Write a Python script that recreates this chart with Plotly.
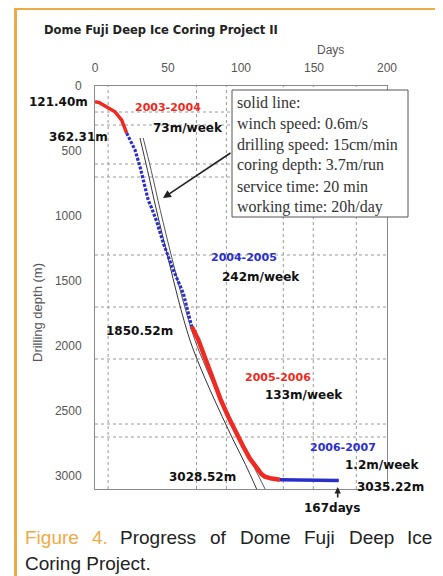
import plotly.graph_objects as go

# ---------------- data ----------------
red1_days = [0, 3, 5.7, 10, 13.7, 18.3, 20.5, 21.7]
red1_depth = [121.40, 128, 146, 170, 198, 262, 338, 362.31]

blue1_days = [21.7, 24.5, 27.4, 30.8, 34.2, 36.5, 38.8, 42.2, 46.8, 53.6, 60.5, 66.2]
blue1_depth = [362.31, 430, 492, 620, 775, 880, 940, 1040, 1210, 1415, 1595, 1850.52]

red2_days = [66.2, 70.8, 76, 81, 86, 91.3, 96.5, 101.6, 106, 110.7, 114, 116.4, 121, 126.7]
red2_depth = [1850.52, 1954, 2110, 2262, 2410, 2544, 2665, 2775, 2865, 2940, 2985, 3005, 3020, 3028.52]

blue2_days = [126.7, 140, 155, 167]
blue2_depth = [3028.52, 3030, 3033, 3035.22]

theo_a_days = [30.8, 36, 42.2, 50, 57, 65, 72, 78.8, 87, 94.7, 103, 110.7]
theo_a_depth = [400, 650, 960, 1320, 1640, 1954, 2160, 2338, 2540, 2723, 2910, 3100]
theo_b_days = [33.0, 38.5, 44.8, 52.6, 60, 68.4, 75.8, 82.8, 91.5, 99.5, 108, 116.5]
theo_b_depth = [400, 650, 960, 1320, 1640, 1954, 2160, 2338, 2540, 2723, 2910, 3100]

grid_days = [9, 69.5, 90, 129, 149.5, 179]
grid_depths = [200, 300, 600, 700, 1300, 1700, 2100, 2600, 2700]

x_ticks = [0, 50, 100, 150, 200]
y_ticks = [0, 500, 1000, 1500, 2000, 2500, 3000]

box_lines = ["solid line:", "winch speed: 0.6m/s", "drilling speed: 15cm/min",
             "coring depth: 3.7m/run", "service time: 20 min", "working time: 20h/day"]

# ---------------- layout helpers (page pixel coords) ----------------
PAGE_W, PAGE_H = 443, 576
OFF = 8                      # default body margin of the html page
W, H = PAGE_W - OFF, PAGE_H - OFF
L, R, T, B = 95, 387, 86, 489   # plot area in page pixels


def fx(px):
    return (px - L) / (R - L)


def fy(py):
    return (B - py) / (B - T)


ORANGE = "#eeab45"
RED = "#ee2a22"
BLUE = "#2a2fcc"

fig = go.Figure()

# theoretical lines
fig.add_trace(go.Scatter(x=theo_a_days, y=theo_a_depth, mode="lines",
                         line=dict(color="#333333", width=1, shape="spline"), hoverinfo="skip"))
fig.add_trace(go.Scatter(x=theo_b_days, y=theo_b_depth, mode="lines",
                         line=dict(color="#555555", width=1, shape="spline"), hoverinfo="skip"))

# progress
fig.add_trace(go.Scatter(x=red1_days, y=red1_depth, mode="lines",
                         line=dict(color=RED, width=3.5)))
fig.add_trace(go.Scatter(x=blue1_days, y=blue1_depth, mode="lines",
                         line=dict(color=BLUE, width=3.2, dash="3px,1.5px")))
fig.add_trace(go.Scatter(x=red2_days, y=red2_depth, mode="lines",
                         line=dict(color=RED, width=4.5)))
fig.add_trace(go.Scatter(x=blue2_days, y=blue2_depth, mode="lines",
                         line=dict(color=BLUE, width=3.5)))

shapes = []
for d in grid_days:
    shapes.append(dict(type="line", xref="x", yref="paper", x0=d, x1=d, y0=0, y1=1,
                       line=dict(color="#9a9a9a", width=1, dash="dot"), layer="below"))
for d in grid_depths:
    shapes.append(dict(type="line", xref="paper", yref="y", x0=0, x1=1, y0=d, y1=d,
                       line=dict(color="#9a9a9a", width=1, dash="dot"), layer="below"))

# info box
shapes.append(dict(type="rect", xref="paper", yref="paper",
                   x0=fx(232), x1=fx(408), y0=fy(217), y1=fy(90),
                   line=dict(color="#555555", width=1), fillcolor="white", layer="above"))

# orange frame
shapes.append(dict(type="path", xref="paper", yref="paper",
                   path=f"M {fx(15.5)} {fy(590)} L {fx(15.5)} {fy(8.5)} L {fx(436.5)} {fy(8.5)} L {fx(436.5)} {fy(590)}",
                   line=dict(color=ORANGE, width=3), layer="above"))

ann = []


def txt(text, x, y, size=12, color="#111111", family="DejaVu Sans", xanchor="center", bold=True, **kw):
    ann.append(dict(text=f"<b>{text}</b>" if bold else text, x=fx(x), y=fy(y), xref="paper", yref="paper",
                    xanchor=xanchor, yanchor="middle", showarrow=False,
                    font=dict(size=size, color=color, family=family), **kw))


txt("Dome Fuji Deep Ice Coring Project II", 42, 30, size=11.5, color="#222222",
    family="DejaVu Sans", xanchor="left")
txt("Days", 330, 50, size=12, color="#555555", family="Liberation Sans, Arial", bold=False)
txt("Drilling depth (m)", 37, 313, size=13, color="#555555", family="Liberation Sans, Arial",
    bold=False, textangle=-90)

txt("121.40m", 90, 102, xanchor="right")
txt("362.31m", 110, 137, xanchor="right")
txt("2003-2004", 168, 107, size=11, color=RED)
txt("73m/week", 188, 128)
txt("2004-2005", 244, 257, size=11, color=BLUE)
txt("242m/week", 261, 277)
txt("1850.52m", 139, 331)
txt("2005-2006", 278, 377, size=11, color=RED)
txt("133m/week", 304, 395)
txt("2006-2007", 343, 447, size=11, color=BLUE)
txt("1.2m/week", 382, 465)
txt("3028.52m", 202, 477)
txt("3035.22m", 390, 487)
txt("167days", 332, 508)

for i, line in enumerate(box_lines):
    txt(line, 235, 103 + i * 20.8, size=16, color="#333333", family="Liberation Serif, Times New Roman",
        xanchor="left", bold=False)

# arrows
ann.append(dict(x=fx(163), y=fy(198), xref="paper", yref="paper", ax=69, ay=-46, text="",
                showarrow=True, arrowhead=2, arrowsize=1, arrowwidth=1.6, arrowcolor="#222222"))
ann.append(dict(x=fx(337.7), y=fy(487), xref="paper", yref="paper", ax=0, ay=12, text="",
                showarrow=True, arrowhead=2, arrowsize=0.8, arrowwidth=1.6, arrowcolor="#222222"))

# caption
cap_words = [("Figure", 23, ORANGE), ("4.", 90, ORANGE), ("Progress", 118, "#222222"), ("of", 208, "#222222"),
             ("Dome", 238, "#222222"), ("Fuji", 302, "#222222"), ("Deep", 347, "#222222"),
             ("Ice", 405, "#222222")]
for w, x, c in cap_words:
    txt(w, x, 537, size=19, color=c, family="Liberation Sans, Arial", xanchor="left", bold=False)
txt("Coring Project.", 23, 563, size=19, color="#222222", family="Liberation Sans, Arial",
    xanchor="left", bold=False)

fig.update_layout(
    width=W, height=H,
    margin=dict(l=L - OFF, r=PAGE_W - R, t=T - OFF, b=PAGE_H - B, pad=0),
    paper_bgcolor="white", plot_bgcolor="white",
    showlegend=False,
    shapes=shapes, annotations=ann,
    xaxis=dict(range=[0, 200], side="top", tickvals=x_ticks, ticks="", showgrid=False, zeroline=False,
               showline=True, mirror=True, linecolor="#8a8a8a", linewidth=1,
               tickfont=dict(size=12, color="#555555", family="Liberation Sans, Arial"),
               ticklabelstandoff=8),
    yaxis=dict(range=[3100, 0], tickvals=y_ticks, ticks="", showgrid=False, zeroline=False,
               showline=True, mirror=True, linecolor="#8a8a8a", linewidth=1,
               tickfont=dict(size=12, color="#555555", family="Liberation Sans, Arial"),
               ticklabelstandoff=10),
)

fig.write_html("out.html")
